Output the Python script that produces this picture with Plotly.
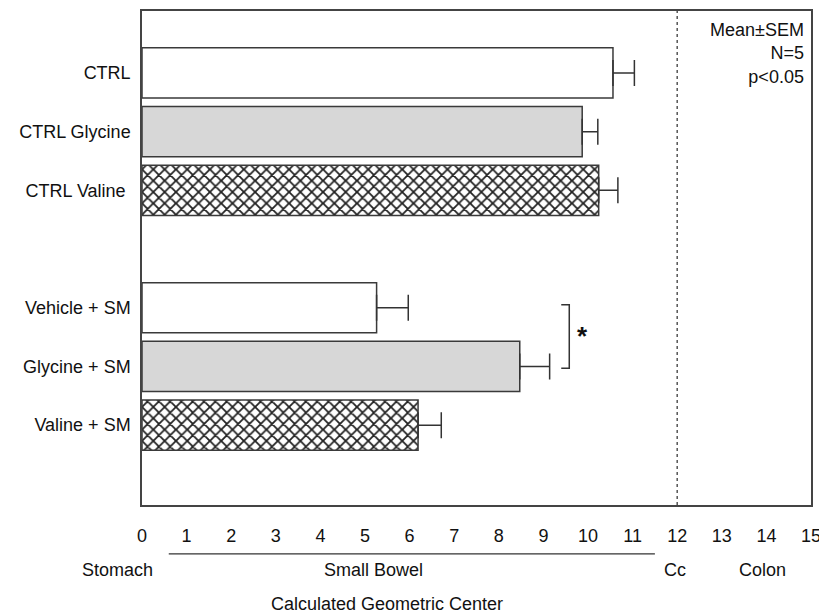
import plotly.graph_objects as go

labels = ["CTRL", "CTRL Glycine", "CTRL Valine\u00a0", "Vehicle + SM", "Glycine + SM", "Valine + SM"]
means = [10.56, 9.87, 10.24, 5.26, 8.47, 6.19]
sems = [0.48, 0.35, 0.43, 0.71, 0.67, 0.52]
group = [0, 0, 0, 1, 1, 1]
fill_kind = ["white", "gray", "hatch", "white", "gray", "hatch"]
x_ticks = list(range(0, 16))
region_labels = ["Stomach", "Small Bowel", "Cc", "Colon"]
region_centers = [-0.55, 5.2, 11.95, 13.92]

X_MAX = 15
pos = [i + g for i, g in enumerate(group)]

FONT = "Liberation Sans, Arial, sans-serif"
EDGE = "#3a3a3a"

styles = {
    "white": dict(color="white"),
    "gray": dict(color="#d7d7d7"),
    "hatch": dict(color="white", pattern=dict(shape="x", fgcolor="#222222", bgcolor="white",
                                              size=8, solidity=0.4, fillmode="replace")),
}

fig = go.Figure()
for kind in ["white", "gray", "hatch"]:
    idx = [i for i, k in enumerate(fill_kind) if k == kind]
    fig.add_trace(go.Bar(
        x=[means[i] for i in idx], y=[pos[i] for i in idx], orientation="h", width=0.855,
        marker=dict(line=dict(color=EDGE, width=1.5), **styles[kind]),
        error_x=dict(type="data", array=[sems[i] for i in idx], arrayminus=[0] * len(idx),
                     symmetric=False, color="#333333", thickness=1.5, width=13),
        showlegend=False, hoverinfo="skip",
    ))

# dashed line at caecum (x=12)
fig.add_shape(type="line", xref="x", yref="paper", x0=12, x1=12, y0=0, y1=1,
              line=dict(color="#555555", width=1.5, dash="3px,3px"))

# significance bracket between Vehicle + SM and Glycine + SM
fig.add_shape(type="path", xref="x", yref="y",
              path="M 9.4 3.95 L 9.58 3.95 L 9.58 5.03 L 9.4 5.03",
              line=dict(color="#333333", width=1.5))
fig.add_annotation(x=9.87, y=4.48, xref="x", yref="y", text="<b>*</b>", showarrow=False,
                   font=dict(size=26, family=FONT, color="#111"))

# line under small bowel segment
fig.add_shape(type="line", xref="x", yref="paper", x0=0.6, x1=11.5, y0=-0.099, y1=-0.099,
              line=dict(color="#333333", width=1.2))

for txt, cx in zip(region_labels, region_centers):
    fig.add_annotation(x=cx / X_MAX, y=-0.131, xref="paper", yref="paper", text=txt,
                       showarrow=False, font=dict(size=18, family=FONT, color="#111"),
                       xanchor="center", yanchor="middle")

fig.add_annotation(x=5.5 / X_MAX, y=-0.2, xref="paper", yref="paper",
                   text="Calculated Geometric Center", showarrow=False,
                   font=dict(size=18, family=FONT, color="#111"),
                   xanchor="center", yanchor="middle")

fig.add_annotation(x=0.992, y=0.985, xref="paper", yref="paper",
                   text="Mean±SEM<br>N=5<br>p<0.05", showarrow=False, align="right",
                   xanchor="right", yanchor="top",
                   font=dict(size=18, family=FONT, color="#111"))

fig.update_xaxes(range=[0, X_MAX], tickvals=x_ticks, ticks="", showgrid=False, zeroline=False,
                 showline=True, mirror=True, linecolor="#444444", linewidth=1.5,
                 tickfont=dict(size=18, family=FONT, color="#111"), ticklabelstandoff=14)
fig.update_yaxes(range=[7.36, -1.055], tickvals=pos, ticktext=labels, ticks="",
                 showgrid=False, zeroline=False, showline=True, mirror=True,
                 linecolor="#444444", linewidth=1.5,
                 tickfont=dict(size=18, family=FONT, color="#111"), ticklabelstandoff=6)

fig.update_layout(width=819, height=607, margin=dict(l=134, r=16, t=1, b=110),
                  plot_bgcolor="white", paper_bgcolor="white", barmode="overlay",
                  font=dict(family=FONT))
fig.write_html("out.html")
